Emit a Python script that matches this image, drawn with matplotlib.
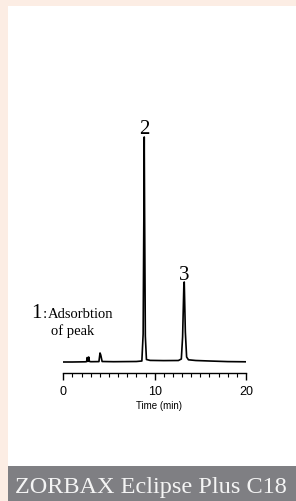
import matplotlib
matplotlib.use("Agg")
import matplotlib.pyplot as plt
from matplotlib.patches import Rectangle

# chromatogram trace (time in min, signal in arbitrary units)
time = [0.0, 1.0, 2.4, 2.55, 2.62, 2.7, 2.78, 2.86, 3.0, 3.9, 4.02, 4.1, 4.25, 5.5, 8.0,
        8.6, 8.74, 8.82, 8.86, 8.9, 8.98, 9.1, 9.5, 11.0, 12.6, 12.92, 13.06, 13.2,
        13.24, 13.36, 13.5, 13.7, 14.5, 16.0, 18.0, 20.0]
signal = [0.0, 0.0, 0.2, 0.4, 4.5, 0.6, 5.0, 0.6, 0.3, 0.4, 9.0, 7.0, 0.5, 0.3, 0.5,
          1.0, 28.0, 150.0, 225.0, 150.0, 26.0, 2.5, 1.6, 1.4, 1.5, 3.0, 25.0, 78.0,
          80.0, 30.0, 5.0, 2.2, 1.5, 1.0, 0.4, 0.2]

peak_labels = ["2", "3"]
peak_times = [8.86, 13.22]
peak_label_y = [229, 83]

W, H = 296, 502
fig = plt.figure(figsize=(W / 100, H / 100), dpi=100)
fig.patch.set_facecolor("#fcede4")

def px(x0, y0, w, h):
    # pixel box (top-left origin) -> figure fraction
    return (x0 / W, 1 - (y0 + h) / H, w / W, h / H)

# white panel and grey title bar
fig.patches.append(Rectangle(px(8, 7, 288, 460)[:2], 288 / W, 460 / H,
                             transform=fig.transFigure, facecolor="white",
                             edgecolor="none", zorder=0))
fig.patches.append(Rectangle(px(8, 467, 288, 35)[:2], 288 / W, 35 / H,
                             transform=fig.transFigure, facecolor="#7f7f83",
                             edgecolor="none", zorder=0))
fig.text(15 / W, 1 - 493 / H, "ZORBAX Eclipse Plus C18", family="Liberation Serif",
         fontsize=17.5, color="#f4f4f4", ha="left", va="baseline", zorder=3)

ax = fig.add_axes(px(63.3, 100, 182.7, 274))
ax.set_zorder(2)
ax.patch.set_alpha(0)
ax.plot(time, signal, color="black", lw=1.2, solid_joinstyle="round")
ax.set_xlim(0, 20)
ax.set_ylim(-11, 263)

for s in ["left", "right", "top"]:
    ax.spines[s].set_visible(False)
ax.spines["bottom"].set_linewidth(1.0)
ax.set_yticks([])
ax.set_xticks([0, 10, 20])
ax.set_xticks(range(21), minor=True)
ax.tick_params(axis="x", which="major", length=5, width=1.0, pad=3.5,
               labelsize=9, labelfontfamily="Liberation Sans")
ax.tick_params(axis="x", which="minor", length=3, width=0.8)

for lab, t, y in zip(peak_labels, peak_times, peak_label_y):
    ax.text(t, y, lab, family="Liberation Serif", fontsize=15,
            ha="center", va="baseline")

ax.text(-3.0, 45, "1", family="Liberation Serif", fontsize=15,
        ha="center", va="baseline", clip_on=False)
ax.text(-2.05, 45, ":", family="Liberation Serif", fontsize=11,
        ha="center", va="baseline", clip_on=False)
ax.text(-1.65, 45, "Adsorbtion", family="Liberation Serif", fontsize=10.5,
        ha="left", va="baseline", clip_on=False)
ax.text(-1.4, 27.5, "of peak", family="Liberation Serif", fontsize=10.5,
        ha="left", va="baseline", clip_on=False)

fig.text(159 / W, 1 - 406 / H, "Time (min)", family="Liberation Sans",
         fontsize=7, ha="center", va="center", zorder=3)

fig.savefig("out.png", dpi=100, facecolor=fig.get_facecolor())
